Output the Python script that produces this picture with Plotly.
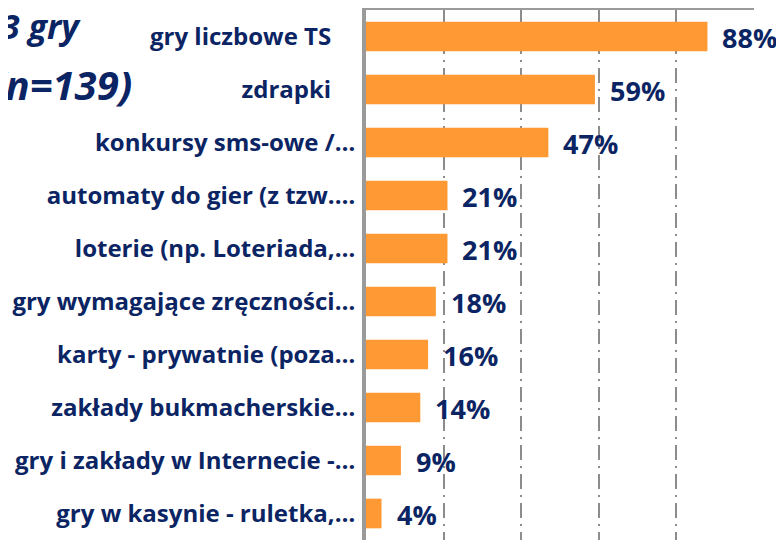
import plotly.graph_objects as go

categories = [
    "gry liczbowe TS\u2003",
    "zdrapki\u2003",
    "konkursy sms-owe /…",
    "automaty do gier (z tzw.…",
    "loterie (np. Loteriada,…",
    "gry wymagające zręczności…",
    "karty - prywatnie (poza…",
    "zakłady bukmacherskie…",
    "gry i zakłady w Internecie -…",
    "gry w kasynie - ruletka,…",
]
values = [88, 59, 47, 21, 21, 18, 16, 14, 9, 4]
value_labels = [f"{v}%" for v in values]
title_lines = ["3 gry", "(n=139)"]

NAVY = "#0B2463"
ORANGE = "#FF9933"
GRID = "#8C8C8C"
FONT = "Open Sans"

# the page body adds an 8px offset; figure is sized to fit the window
W, H = 776, 532
ML, MR, MT, MB = 358, 30, 2, 0

fig = go.Figure(
    go.Bar(
        x=values,
        y=categories,
        orientation="h",
        marker=dict(color=ORANGE, line=dict(width=0)),
        hoverinfo="skip",
    )
)

for v, c, t in zip(values, categories, value_labels):
    fig.add_annotation(
        x=v, y=c, text=t, xref="x", yref="y",
        xanchor="left", yanchor="middle", showarrow=False,
        xshift=13, yshift=-1,
        font=dict(family=FONT, size=27, color=NAVY, weight="bold"),
    )

plot_w = W - ML - MR
plot_h = H - MT - MB
def px_to_paper_x(px):
    return (px - ML) / plot_w
def px_to_paper_y(py):
    return 1 - (py - MT) / plot_h

fig.add_annotation(
    x=px_to_paper_x(75), y=px_to_paper_y(18), xref="paper", yref="paper",
    text=title_lines[0], showarrow=False, xanchor="right", yanchor="middle",
    font=dict(family=FONT, size=34, color=NAVY, weight="bold", style="italic"),
)
fig.add_annotation(
    x=px_to_paper_x(126), y=px_to_paper_y(77), xref="paper", yref="paper",
    text=title_lines[1], showarrow=False, xanchor="right", yanchor="middle",
    font=dict(family=FONT, size=40, color=NAVY, weight="bold", style="italic"),
)

fig.update_layout(
    width=W,
    height=H,
    margin=dict(l=ML, r=MR, t=MT, b=MB, pad=0),
    plot_bgcolor="white",
    paper_bgcolor="white",
    showlegend=False,
    bargap=0.44,
    xaxis=dict(
        range=[0, 100],
        dtick=20,
        side="top",
        showticklabels=False,
        showgrid=True,
        gridcolor=GRID,
        gridwidth=1.5,
        griddash="15px,6px,2px,6px",
        showline=True,
        linecolor="#9A9A9A",
        linewidth=4,
        zeroline=False,
        ticks="",
        fixedrange=True,
    ),
    yaxis=dict(
        autorange="reversed",
        showline=True,
        linecolor="#9A9A9A",
        linewidth=4,
        showgrid=False,
        ticks="",
        ticklabelstandoff=2,
        tickfont=dict(family=FONT, size=24, color=NAVY, weight="bold"),
        fixedrange=True,
    ),
)

fig.write_html("out.html")
